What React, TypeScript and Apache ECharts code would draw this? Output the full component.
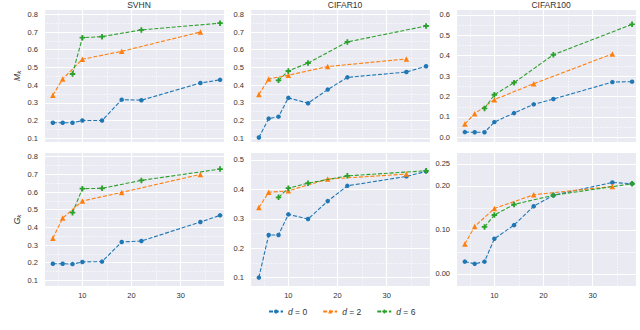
import React, { useEffect, useRef } from "react";
import * as echarts from "echarts";

// ---- data ----
const TITLES = ["SVHN", "CIFAR10", "CIFAR100"];
const LEGEND_NAMES = ["d = 0", "d = 2", "d = 6"];
const X_D0 = [4, 6, 8, 10, 14, 18, 22, 34, 38];
const X_D2 = [4, 6, 10, 18, 34];
const X_D6 = [8, 10, 14, 22, 38];
const X_TICKS = [10, 20, 30];

const SVHN_M_D0 = [0.188, 0.188, 0.188, 0.2, 0.2, 0.318, 0.315, 0.412, 0.43];
const SVHN_M_D2 = [0.343, 0.435, 0.546, 0.591, 0.7];
const SVHN_M_D6 = [0.463, 0.668, 0.674, 0.712, 0.75];
const CIFAR10_M_D0 = [0.104, 0.211, 0.222, 0.328, 0.298, 0.375, 0.444, 0.474, 0.507];
const CIFAR10_M_D2 = [0.347, 0.435, 0.456, 0.505, 0.548];
const CIFAR10_M_D6 = [0.427, 0.48, 0.525, 0.644, 0.734];
const CIFAR100_M_D0 = [0.026, 0.025, 0.025, 0.075, 0.119, 0.162, 0.188, 0.271, 0.273];
const CIFAR100_M_D2 = [0.065, 0.116, 0.185, 0.263, 0.409];
const CIFAR100_M_D6 = [0.142, 0.209, 0.268, 0.405, 0.554];

const SVHN_G_D0 = [0.194, 0.194, 0.192, 0.204, 0.206, 0.317, 0.323, 0.43, 0.468];
const SVHN_G_D2 = [0.338, 0.453, 0.549, 0.598, 0.7];
const SVHN_G_D6 = [0.483, 0.619, 0.621, 0.666, 0.73];
const CIFAR10_G_D0 = [0.1, 0.245, 0.245, 0.315, 0.299, 0.36, 0.412, 0.444, 0.461];
const CIFAR10_G_D2 = [0.338, 0.39, 0.395, 0.435, 0.452];
const CIFAR10_G_D6 = [0.373, 0.404, 0.421, 0.446, 0.463];
const CIFAR100_G_D0 = [0.028, 0.023, 0.028, 0.08, 0.111, 0.154, 0.179, 0.208, 0.205];
const CIFAR100_G_D2 = [0.068, 0.108, 0.149, 0.18, 0.199];
const CIFAR100_G_D6 = [0.107, 0.134, 0.158, 0.179, 0.205];

const Y_TICKS_MK = [0.1, 0.2, 0.3, 0.4, 0.5, 0.6, 0.7, 0.8];
const Y_TICKS_C100_MK = [0.0, 0.1, 0.2, 0.3, 0.4, 0.5, 0.6];
const Y_TICKS_C10_GK = [0.1, 0.2, 0.3, 0.4, 0.5];
const Y_TICKS_C100_GK = [0.0, 0.1, 0.2, 0.25];

const PANELS = [
  [SVHN_M_D0, SVHN_M_D2, SVHN_M_D6],
  [CIFAR10_M_D0, CIFAR10_M_D2, CIFAR10_M_D6],
  [CIFAR100_M_D0, CIFAR100_M_D2, CIFAR100_M_D6],
  [SVHN_G_D0, SVHN_G_D2, SVHN_G_D6],
  [CIFAR10_G_D0, CIFAR10_G_D2, CIFAR10_G_D6],
  [CIFAR100_G_D0, CIFAR100_G_D2, CIFAR100_G_D6],
];

// ---- layout / style ----
const COLORS = ["#1f77b4", "#ff7f0e", "#2ca02c"];
const PLUS = "path://M-1,-3L1,-3L1,-1L3,-1L3,1L1,1L1,3L-1,3L-1,1L-3,1L-3,-1L-1,-1Z";
const SYMBOLS = ["circle", "triangle", PLUS];
const SYMBOL_SIZES = [4.5, 5.5, 5.5];
const XS = [X_D0, X_D2, X_D6];
const COL_LEFT = [44, 250, 456];
const ROW_TOP = [9, 152.3];
const ROW_H = [133.7, 134.4];
const PLOT_W = 180;
const Y_EXT = [
  [0.075, 0.83, 7, Y_TICKS_MK, 1],
  [0.075, 0.83, 7, Y_TICKS_MK, 1],
  [-0.026, 0.629, 6, Y_TICKS_C100_MK, 1],
  [0.064, 0.825, 7, Y_TICKS_MK, 1],
  [0.069, 0.526, 4, Y_TICKS_C10_GK, 1],
  [-0.029, 0.2766, 6, Y_TICKS_C100_GK, 2],
];
const FONT = "Liberation Sans";
const LABEL_COLOR = "#333";

function fmt(ticks: number[], dec: number) {
  return (v: number) => {
    const hit = ticks.some((t) => Math.abs(t - v) < 1e-6);
    return hit ? v.toFixed(dec) : "";
  };
}

export default function App() {
  const ref = useRef<HTMLDivElement>(null);
  useEffect(() => {
    const chart = echarts.init(ref.current!, null, { renderer: "svg" });
    const grids: any[] = [];
    const xAxes: any[] = [];
    const yAxes: any[] = [];
    const series: any[] = [];
    for (let i = 0; i < 6; i++) {
      const r = Math.floor(i / 3);
      const c = i % 3;
      grids.push({
        left: COL_LEFT[c],
        top: ROW_TOP[r],
        width: PLOT_W,
        height: ROW_H[r],
        show: true,
        backgroundColor: "#EAEAF2",
        borderWidth: 0,
        containLabel: false,
      });
      xAxes.push({
        type: "value",
        gridIndex: i,
        min: 2.2,
        max: 38.8,
        splitNumber: 5,
        axisLine: { show: false },
        axisTick: { show: false },
        axisLabel: {
          show: r === 1,
          formatter: fmt(X_TICKS, 0),
          fontSize: 7.5,
          fontFamily: FONT,
          color: LABEL_COLOR,
          margin: 5,
          showMinLabel: false,
          showMaxLabel: false,
        },
        splitLine: { show: true, lineStyle: { color: "#ffffff", width: 1.1 } },
        minorTick: { show: false, splitNumber: 2 },
        minorSplitLine: { show: true, lineStyle: { color: "#ffffff", width: 0.7, type: [1.5, 1.5] } },
      });
      const [mn, mx, sn, ticks, dec] = Y_EXT[i] as any;
      const isC100G = i === 5;
      yAxes.push({
        type: "value",
        gridIndex: i,
        min: mn,
        max: mx,
        splitNumber: sn,
        axisLine: { show: false },
        axisTick: { show: false },
        axisLabel: {
          formatter: fmt(ticks, dec),
          fontSize: 7.5,
          fontFamily: FONT,
          color: LABEL_COLOR,
          margin: 6,
          showMinLabel: false,
          showMaxLabel: false,
        },
        splitLine: {
          show: true,
          lineStyle: {
            color: isC100G
              ? ["#ffffff", "#ffffff", "#f7f7fb", "#ffffff", "#f7f7fb", "#ffffff", "#ffffff", "#ffffff"]
              : "#ffffff",
            width: 1.1,
          },
        },
        minorTick: { show: false, splitNumber: 2 },
        minorSplitLine: {
          show: !isC100G,
          lineStyle: { color: "#ffffff", width: 0.7, type: [1.5, 1.5] },
        },
        ...(c === 0
          ? {
              name: r === 0 ? "{m|M}{s|k}" : "{m|G}{s|k}",
              nameLocation: "middle",
              nameRotate: 90,
              nameGap: 22,
              nameTextStyle: {
                color: LABEL_COLOR,
                rich: {
                  m: { fontSize: 8.5, fontStyle: "italic", fontFamily: FONT, color: LABEL_COLOR },
                  s: { fontSize: 6, fontStyle: "italic", fontFamily: FONT, color: LABEL_COLOR, padding: [4, 0, 0, 0] },
                },
              },
            }
          : {}),
      });
      PANELS[i].forEach((vals, k) => {
        series.push({
          type: "line",
          name: LEGEND_NAMES[k],
          xAxisIndex: i,
          yAxisIndex: i,
          data: XS[k].map((x, j) => [x, vals[j]]),
          symbol: SYMBOLS[k],
          symbolSize: SYMBOL_SIZES[k],
          showSymbol: true,
          color: COLORS[k],
          itemStyle: { color: COLORS[k] },
          lineStyle: { color: COLORS[k], width: 1.1, type: [4, 1.8] },
          z: 2 + k,
        });
      });
    }
    chart.setOption({
      animation: false,
      backgroundColor: "#ffffff",
      title: TITLES.map((t, c) => ({
        text: t,
        left: COL_LEFT[c] + PLOT_W / 2,
        top: -5,
        textAlign: "center",
        textStyle: { fontSize: 8.5, fontWeight: "normal", fontFamily: FONT, color: "#333" },
      })),
      legend: {
        data: LEGEND_NAMES,
        left: 268,
        top: 307,
        itemWidth: 14,
        itemHeight: 5,
        itemGap: 15,
        padding: 0,
        formatter: (n: string) => "{i|d}" + n.slice(1),
        textStyle: {
          fontSize: 8.5,
          fontFamily: FONT,
          color: "#333",
          rich: { i: { fontStyle: "italic", fontSize: 8.5, fontFamily: FONT, color: "#333" } },
        },
      },
      grid: grids,
      xAxis: xAxes,
      yAxis: yAxes,
      series,
    });
    return () => chart.dispose();
  }, []);
  return (
    <div
      ref={ref}
      style={{ position: "fixed", left: 0, top: 0, width: 640, height: 330 }}
    />
  );
}
